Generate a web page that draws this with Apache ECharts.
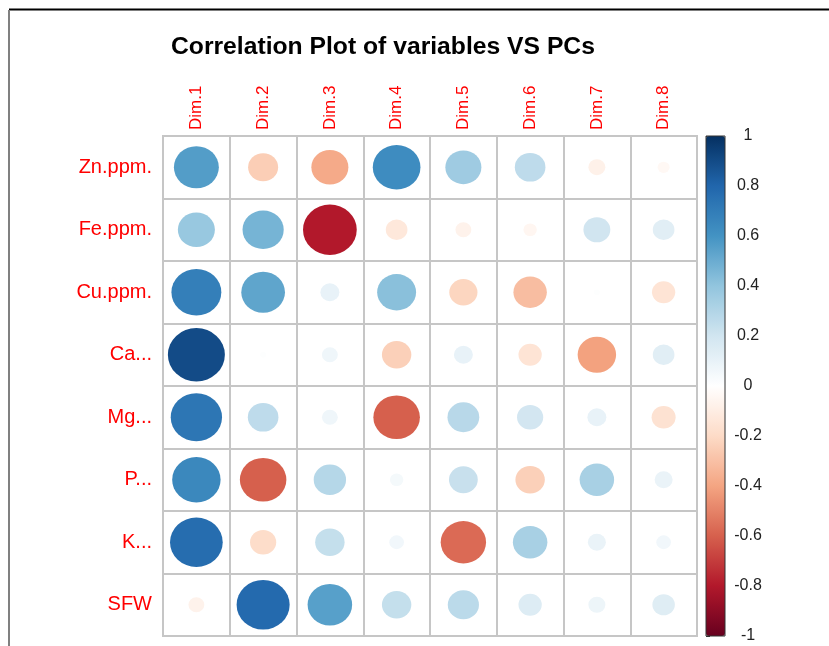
<!DOCTYPE html>
<html>
<head>
<meta charset="utf-8">
<script src="https://cdn.jsdelivr.net/npm/echarts@6/dist/echarts.min.js"></script>
<style>html,body{margin:0;padding:0;background:#fff;}#c{width:829px;height:646px;}</style>
</head>
<body>
<div id="c"></div>
<script>
// Categories
var dims = ['Dim.1', 'Dim.2', 'Dim.3', 'Dim.4', 'Dim.5', 'Dim.6', 'Dim.7', 'Dim.8'];
var variables = ['Zn.ppm.', 'Fe.ppm.', 'Cu.ppm.', 'Ca...', 'Mg...', 'P...', 'K...', 'SFW'];
// Correlations of each variable with the PCs (Dim.1 .. Dim.8)
var znppm = [0.56, -0.25, -0.38, 0.63, 0.36, 0.26, -0.08, -0.04];
var feppm = [0.38, 0.47, -0.80, -0.13, -0.07, -0.05, 0.20, 0.13];
var cuppm = [0.69, 0.53, 0.10, 0.42, -0.22, -0.31, 0.01, -0.15];
var ca    = [0.90, 0.01, 0.07, -0.24, 0.10, -0.15, -0.41, 0.13];
var mg    = [0.73, 0.26, 0.07, -0.60, 0.28, 0.19, 0.10, -0.16];
var p     = [0.65, -0.60, 0.29, 0.05, 0.23, -0.24, 0.33, 0.09];
var k     = [0.77, -0.19, 0.24, 0.06, -0.57, 0.33, 0.09, 0.06];
var sfw   = [-0.07, 0.78, 0.55, 0.24, 0.27, 0.15, 0.08, 0.14];
// Colour bar tick labels
var barTicks = ['-1', '-0.8', '-0.6', '-0.4', '-0.2', '0', '0.2', '0.4', '0.6', '0.8', '1'];
var palette = ['#67001F', '#B2182B', '#D6604D', '#F4A582', '#FDDBC7', '#FFFFFF', '#D1E5F0', '#92C5DE', '#4393C3', '#2166AC', '#053061'];

var rowsData = [znppm, feppm, cuppm, ca, mg, p, k, sfw];
var data = [];
rowsData.forEach(function (row, yi) {
  row.forEach(function (v, xi) { data.push([xi, yi, v]); });
});

var G = { left: 163, top: 136, width: 534, height: 500 };
var cellW = G.width / dims.length, cellH = G.height / variables.length;

var chart = echarts.init(document.getElementById('c'), null, { renderer: 'canvas' });
var FONT = '"Liberation Sans", Arial, Helvetica, sans-serif';
chart.setOption({
  backgroundColor: '#ffffff',
  animation: false,
  textStyle: { fontFamily: FONT },
  title: {
    text: 'Correlation Plot of variables VS PCs',
    left: 171, top: 35, padding: 0,
    textStyle: { fontSize: 24.7, fontWeight: 'bold', color: '#000', fontFamily: FONT }
  },
  grid: [
    { left: G.left, top: G.top, width: G.width, height: G.height, show: true, borderColor: '#c6c6c6', borderWidth: 2, backgroundColor: 'transparent' },
    { left: 706, top: 136, width: 19, height: 500, show: true, borderColor: '#333', borderWidth: 1, backgroundColor: 'transparent', z: 6 }
  ],
  xAxis: [
    {
      gridIndex: 0, type: 'category', data: dims, position: 'top',
      axisLine: { show: false }, axisTick: { show: false },
      splitLine: { show: true, interval: 0, lineStyle: { color: '#c6c6c6', width: 2 } },
      axisLabel: { rotate: -90, color: '#ff0000', fontSize: 17, margin: 6, fontFamily: FONT, interval: 0 }
    },
    { gridIndex: 1, type: 'value', show: false, min: 0, max: 1 }
  ],
  yAxis: [
    {
      gridIndex: 0, type: 'category', data: variables, inverse: true,
      axisLine: { show: false }, axisTick: { show: false },
      splitLine: { show: true, interval: 0, lineStyle: { color: '#c6c6c6', width: 2 } },
      axisLabel: { color: '#ff0000', fontSize: 20, margin: 11, fontFamily: FONT, interval: 0 }
    },
    {
      gridIndex: 1, type: 'category', data: barTicks, position: 'right', boundaryGap: false,
      axisLine: { show: false },
      axisTick: { show: true, length: 4, lineStyle: { color: '#333' }, interval: 0 },
      splitLine: { show: false },
      axisLabel: { color: '#222', fontSize: 16, margin: 23, align: 'center', fontFamily: FONT, interval: 0 }
    }
  ],
  visualMap: {
    type: 'continuous', min: -1, max: 1, dimension: 2, seriesIndex: 0,
    calculable: false, realtime: false, hoverLink: false,
    itemWidth: 19, itemHeight: 500, left: 706, top: 136, padding: 0,
    text: null, showLabel: false,
    inRange: { color: palette }
  },
  series: [{
    type: 'scatter', xAxisIndex: 0, yAxisIndex: 0, data: data,
    symbol: 'circle',
    symbolSize: function (val) {
      var s = Math.sqrt(Math.abs(val[2])) * 0.9;
      return [s * cellW, s * cellH];
    },
    itemStyle: { opacity: 1 },
    z: 3
  }],
  graphic: [
    { type: 'line', shape: { x1: 9, y1: 9.5, x2: 829, y2: 9.5 }, style: { stroke: '#000', lineWidth: 2 } },
    { type: 'line', shape: { x1: 9, y1: 10, x2: 9, y2: 646 }, style: { stroke: '#808080', lineWidth: 2 } }
  ]
});
</script>
</body>
</html>
